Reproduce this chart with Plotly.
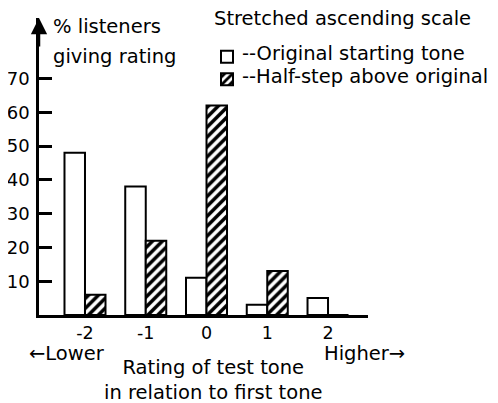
import plotly.graph_objects as go

# ---- data ----
ratings = [-2, -1, 0, 1, 2]
tick_labels = ["-2", "-1", "0", "1", "2"]
original_tone = [48, 38, 11, 3, 5]
half_step_above = [6, 22, 62, 13, 0]
y_ticks = [10, 20, 30, 40, 50, 60, 70]

FONT = "DejaVu Sans"
OFF = 8  # page body margin
W, H = 498 - OFF, 403 - OFF
L, T = 39 - OFF, 18 - OFF
R = W - (368 - OFF)
B = H - (315 - OFF)
PW, PH = W - L - R, H - T - B


def px(x):
    return (x - OFF - L) / PW


def py(y):
    return (H - B - (y - OFF)) / PH


fig = go.Figure()
fig.add_trace(go.Bar(
    x=ratings, y=original_tone, name="",
    marker=dict(color="white", line=dict(color="black", width=2)),
))
fig.add_trace(go.Bar(
    x=ratings, y=half_step_above, name="",
    marker=dict(color="white", line=dict(color="black", width=2),
                pattern=dict(shape="/", fgcolor="black", bgcolor="white",
                             size=7, solidity=0.5, fillmode="replace")),
))

fig.update_layout(
    width=W, height=H,
    margin=dict(l=L, r=R, t=T, b=B, pad=0, autoexpand=False),
    paper_bgcolor="white", plot_bgcolor="white",
    barmode="group", bargap=0.325, bargroupgap=0,
    font=dict(family=FONT, size=19.5, color="black"),
    showlegend=True,
    legend=dict(x=px(207), y=py(40.5), xanchor="left", yanchor="top",
                bgcolor="rgba(0,0,0,0)", font=dict(size=15),
                tracegroupgap=0, itemwidth=30),
    xaxis=dict(range=[-2.757, 2.658], tickvals=ratings, ticktext=tick_labels,
               showline=True, linecolor="black", linewidth=3,
               showgrid=False, zeroline=False, ticks="", automargin=False,
               tickfont=dict(size=17.5, family=FONT)),
    yaxis=dict(range=[0, PH / 3.38], tickvals=y_ticks,
               showline=True, linecolor="black", linewidth=2.5,
               showgrid=False, zeroline=False, automargin=False,
               ticks="inside", ticklen=13, tickwidth=2.5, tickcolor="black",
               ticklabelstandoff=3,
               tickfont=dict(size=18, family=FONT)),
)

ann = [
    dict(text="% listeners", x=px(51), y=py(27), xanchor="left", yanchor="middle"),
    dict(text="giving rating", x=px(51), y=py(57), xanchor="left", yanchor="middle"),
    dict(text="Stretched ascending scale", x=px(212), y=py(18), xanchor="left", yanchor="middle"),
    dict(text="--Original starting tone", x=px(240), y=py(53), xanchor="left", yanchor="middle"),
    dict(text="--Half-step above original", x=px(240), y=py(76), xanchor="left", yanchor="middle"),
    dict(text="\u2190Lower", x=px(27), y=py(353), xanchor="left", yanchor="middle"),
    dict(text="Higher\u2192", x=px(322), y=py(353), xanchor="left", yanchor="middle"),
    dict(text="Rating of test tone<br>in relation to first tone", x=px(213), y=py(380),
         xanchor="center", yanchor="middle"),
]
for a in ann:
    fig.add_annotation(xref="paper", yref="paper", showarrow=False,
                       font=dict(family=FONT, size=19.5, color="black"), **a)

# arrowhead at top of y axis
fig.add_annotation(xref="paper", yref="paper", x=0, y=1, ax=0, ay=30,
                   showarrow=True, arrowhead=2, arrowsize=1.3, arrowwidth=2.5,
                   arrowcolor="black", text="", standoff=0)

fig.write_html("out.html")
